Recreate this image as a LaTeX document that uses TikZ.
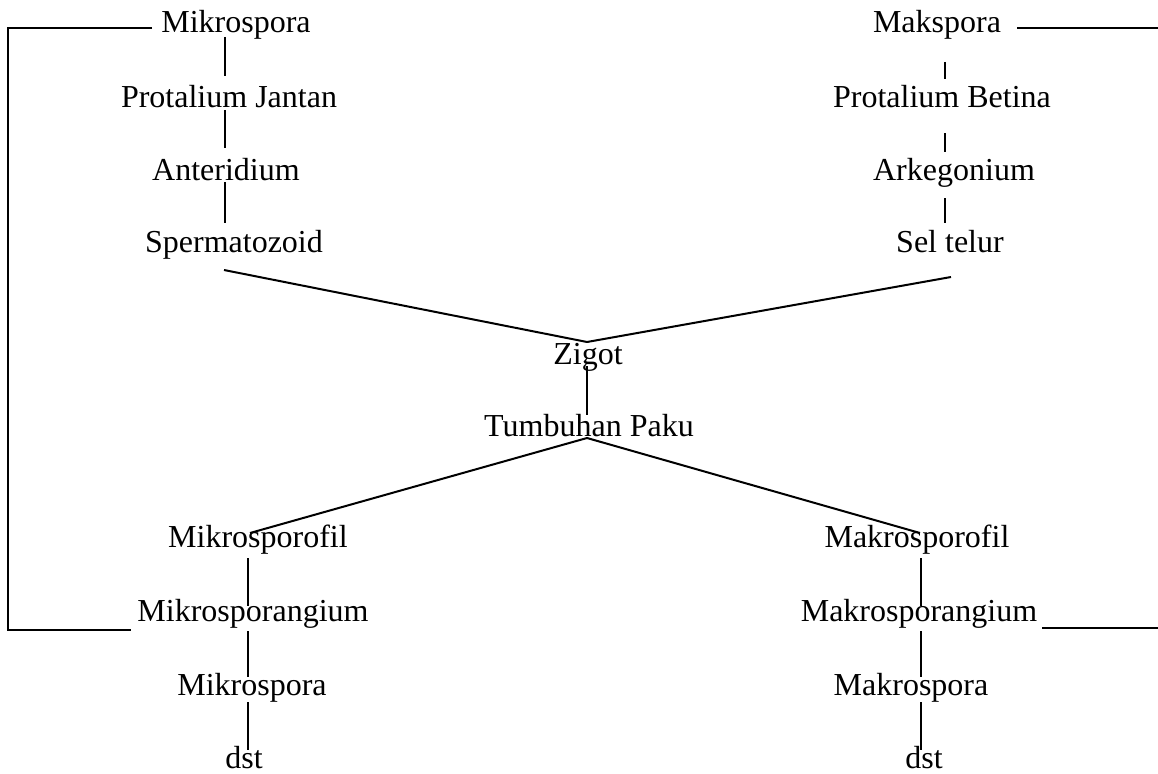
\documentclass[tikz,border=0pt]{standalone}
\usepackage{fontspec}
\setmainfont{Liberation Serif}
\usetikzlibrary{calc}
\begin{document}
\begin{tikzpicture}[x=1pt,y=-1pt,
  lbl/.style={anchor=base,inner sep=0pt,font=\fontsize{32}{38}\selectfont},
  ln/.style={line width=2pt}]
\useasboundingbox (0,0) rectangle (1158,773);

% male branch (top left)
\node[lbl] (mi1) at (236,33)  {Mikrospora};
\node[lbl] (pj)  at (229,107) {Protalium Jantan};
\node[lbl] (an)  at (226,180) {Anteridium};
\node[lbl] (sp)  at (234,252) {Spermatozoid};
% female branch (top right)
\node[lbl] (ma1) at (937,33)  {Makspora};
\node[lbl] (pb)  at (942,107) {Protalium Betina};
\node[lbl] (ar)  at (954,180) {Arkegonium};
\node[lbl] (st)  at (950,252) {Sel telur};
% centre
\node[lbl] (zg)  at (588,364) {Zigot};
\node[lbl] (tp)  at (589,436) {Tumbuhan Paku};
% sporophyll branches (bottom)
\node[lbl] (msf) at (258,547) {Mikrosporofil};
\node[lbl] (msg) at (253,621) {Mikrosporangium};
\node[lbl] (mi2) at (252,695) {Mikrospora};
\node[lbl] (dl)  at (244,768) {dst};
\node[lbl] (kf)  at (917,547) {Makrosporofil};
\node[lbl] (kg)  at (919,621) {Makrosporangium};
\node[lbl] (ka)  at (911,695) {Makrospora};
\node[lbl] (dr)  at (924,768) {dst};

% left column
\draw[ln] ($(mi1.base)+(-11,4)$) -- ($(pj.base)+(-4,-31)$);
\draw[ln] ($(pj.base)+(-4,3)$)   -- ($(an.base)+(-1,-32)$);
\draw[ln] ($(an.base)+(-1,2)$)   -- ($(sp.base)+(-9,-29)$);
% right column
\draw[ln] ($(ma1.base)+(8,29)$)  -- ($(pb.base)+(3,-28)$);
\draw[ln] ($(pb.base)+(3,26)$)   -- ($(ar.base)+(-9,-28)$);
\draw[ln] ($(ar.base)+(-9,18)$)  -- ($(st.base)+(-5,-29)$);
% fertilisation and sporophyte
\draw[ln] ($(sp.base)+(-10,18)$) -- ($(zg.base)+(-1,-22)$);
\draw[ln] ($(st.base)+(1,25)$)   -- ($(zg.base)+(-1,-22)$);
\draw[ln] ($(zg.base)+(-1,2)$)   -- ($(tp.base)+(-2,-21)$);
\draw[ln] ($(tp.base)+(-2,2)$)   -- ($(msf.base)+(-8,-14)$);
\draw[ln] ($(tp.base)+(-2,2)$)   -- ($(kf.base)+(3,-14)$);
% bottom left column
\draw[ln] ($(msf.base)+(-10,11)$) -- ($(msg.base)+(-5,-15)$);
\draw[ln] ($(msg.base)+(-5,10)$)  -- ($(mi2.base)+(-4,-18)$);
\draw[ln] ($(mi2.base)+(-4,7)$)   -- ($(dl.base)+(4,-18)$);
% bottom right column
\draw[ln] ($(kf.base)+(4,11)$)  -- ($(kg.base)+(2,-15)$);
\draw[ln] ($(kg.base)+(2,10)$)  -- ($(ka.base)+(10,-18)$);
\draw[ln] ($(ka.base)+(10,7)$)  -- ($(dr.base)+(-3,-18)$);

% cycle return lines
\coordinate (cnTL) at (8,28);
\coordinate (cnBL) at (8,630);
\coordinate (cnTR) at (1158,28);
\coordinate (cnBR) at (1158,628);
\draw[ln] ($(mi1.base west)+(-9,-5)$) -- (cnTL) -- (cnBL) -- ($(msg.base west)+(-6,9)$);
\draw[ln] ($(ma1.base east)+(16,-5)$) -- (cnTR);
\draw[ln] ($(kg.base east)+(5,7)$) -- (cnBR);
\end{tikzpicture}
\end{document}
